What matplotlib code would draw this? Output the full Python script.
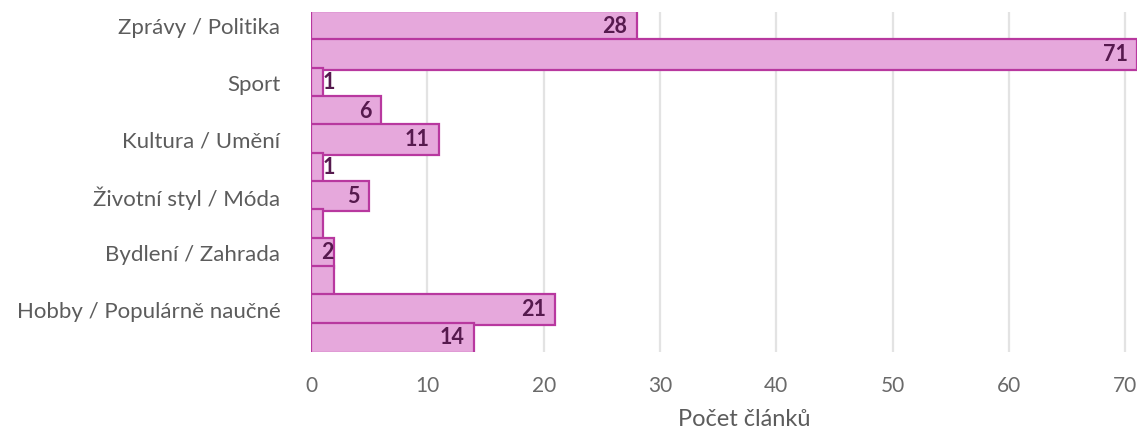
import matplotlib.pyplot as plt
import numpy as np

# data (12 bars, labels on every other bar)
categories = ["Zprávy / Politika", "Sport", "Kultura / Umění",
              "Životní styl / Móda", "Bydlení / Zahrada", "Hobby / Populárně naučné"]
values = [28, 71, 1, 6, 11, 1, 5, 1, 2, 2, 21, 14]
bar_labels = ["28", "71", "1", "6", "11", "1", "5", "", "2", "", "21", "14"]
x_ticks = [0, 10, 20, 30, 40, 50, 60, 70]

plt.rcParams['font.family'] = ['Lato', 'DejaVu Sans']

fig = plt.figure(figsize=(11.41, 4.36), dpi=100)
ax = fig.add_axes([311 / 1141, 1 - 352 / 436, (1137 - 311) / 1141, 340 / 436])

pos = np.arange(len(values))
ax.barh(pos, values, height=1.06, color='#e6a8dc', edgecolor='#b8389f',
        linewidth=1.6, zorder=3)

for p, v, lab in zip(pos, values, bar_labels):
    if not lab:
        continue
    if v < 2:
        # too narrow, put it just outside the bar
        ax.text(v, p, lab, ha='left', va='center', fontsize=15.5,
                fontweight='bold', color='#561a4e', zorder=4)
    else:
        pad = 0.8 if v > 2 else 0.05
        ax.text(v - pad, p, lab, ha='right', va='center', fontsize=15.5,
                fontweight='bold', color='#561a4e', zorder=4)

ax.set_ylim(len(values) - 0.5, -0.5)
ax.set_xlim(0, 71)
ax.set_yticks(pos[::2])
ax.set_yticklabels(categories)
ax.set_xticks(x_ticks)
ax.tick_params(axis='y', length=0, pad=22, labelsize=16, labelcolor='#5c5c5c')
ax.tick_params(axis='x', length=0, pad=17, labelsize=15, labelcolor='#6a6a6a')
ax.set_xlabel('Počet článků', fontsize=17, color='#5c5c5c')
ax.xaxis.set_label_coords(0.525, -0.168)

ax.grid(axis='x', color='#e3e3e3', linewidth=1.6, zorder=0)
for s in ax.spines.values():
    s.set_visible(False)

fig.savefig('out.png', dpi=100)
